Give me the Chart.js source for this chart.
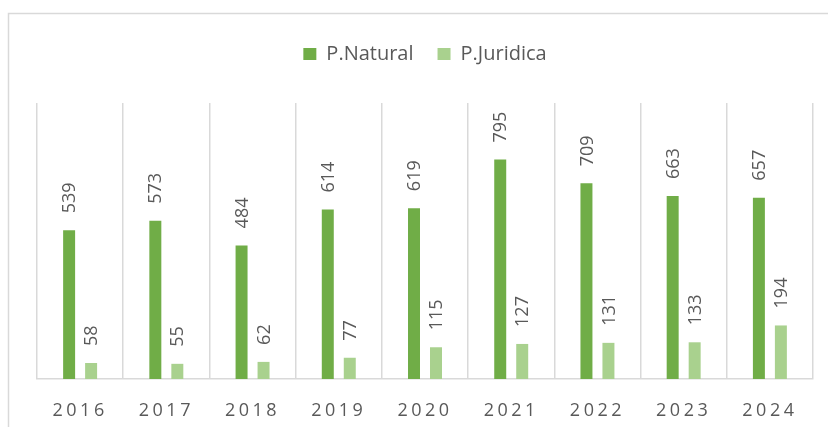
<!DOCTYPE html>
<html>
<head>
<meta charset="utf-8">
<script src="https://cdn.jsdelivr.net/npm/chart.js"></script>
<style>
  html, body { margin: 0; padding: 0; background: #fff; }
  #wrap { position: relative; width: 828px; height: 427px; }
</style>
</head>
<body>
<div id="wrap"><canvas id="chart"></canvas></div>
<script>
// Data
const years = ['2016', '2017', '2018', '2019', '2020', '2021', '2022', '2023', '2024'];
const natural = [539, 573, 484, 614, 619, 795, 709, 663, 657];
const juridica = [58, 55, 62, 77, 115, 127, 131, 133, 194];

const textGray = '#595959';
const gridGray = '#d9d9d9';

// outer frame of the chart object
const framePlugin = {
    id: 'frame',
    beforeDraw(chart) {
        const ctx = chart.ctx;
        ctx.save();
        ctx.strokeStyle = gridGray;
        ctx.lineWidth = 1.5;
        ctx.strokeRect(8.5, 13.5, 900, 500);
        ctx.restore();
    }
};

// rotated value labels above each bar
const valueLabels = {
    id: 'valueLabels',
    afterDatasetsDraw(chart) {
        const ctx = chart.ctx;
        ctx.save();
        ctx.font = '18px "Open Sans"';
        ctx.fillStyle = textGray;
        ctx.textAlign = 'left';
        ctx.textBaseline = 'middle';
        chart.data.datasets.forEach((ds, i) => {
            chart.getDatasetMeta(i).data.forEach((bar, j) => {
                ctx.save();
                ctx.translate(bar.x, bar.y - 17);
                ctx.rotate(-Math.PI / 2);
                ctx.fillText(ds.data[j], 0, 1);
                ctx.restore();
            });
        });
        ctx.restore();
        // spaced-out year labels (x ticks are drawn after this, z = 1)
        ctx.letterSpacing = '3.5px';
    },
    afterDraw(chart) {
        chart.ctx.letterSpacing = '0px';
    }
};

// fixed legend band height
const legendHeight = {
    id: 'legendHeight',
    beforeInit(chart) {
        const fit = chart.legend.fit;
        chart.legend.fit = function() {
            fit.call(this);
            this.height = 83;
        };
    }
};

new Chart(document.getElementById('chart'), {
    type: 'bar',
    data: {
        labels: years,
        datasets: [
            { label: 'P.Natural', data: natural, backgroundColor: '#70AD47' },
            { label: 'P.Juridica', data: juridica, backgroundColor: '#A9D18E' }
        ]
    },
    options: {
        responsive: true,
        maintainAspectRatio: false,
        animation: false,
        categoryPercentage: 0.51,
        barPercentage: 0.545,
        layout: { padding: { left: 37, right: 15, top: 20, bottom: 0 } },
        plugins: {
            legend: {
                position: 'top',
                labels: {
                    font: { family: 'Open Sans', size: 20 },
                    color: textGray,
                    boxWidth: 13,
                    boxHeight: 12,
                    padding: 24
                }
            },
            tooltip: { enabled: false }
        },
        scales: {
            y: {
                display: false,
                min: 0,
                max: 1000
            },
            x: {
                afterFit(scale) {
                    scale.height = 48;
                },
                grid: {
                    color: gridGray,
                    lineWidth: 1.5,
                    drawTicks: false,
                    offset: true
                },
                border: { color: gridGray, width: 1.5 },
                ticks: {
                    z: 1,
                    color: textGray,
                    font: { family: 'Open Sans', size: 18 },
                    padding: 21
                }
            }
        }
    },
    plugins: [framePlugin, valueLabels, legendHeight]
});
</script>
</body>
</html>
